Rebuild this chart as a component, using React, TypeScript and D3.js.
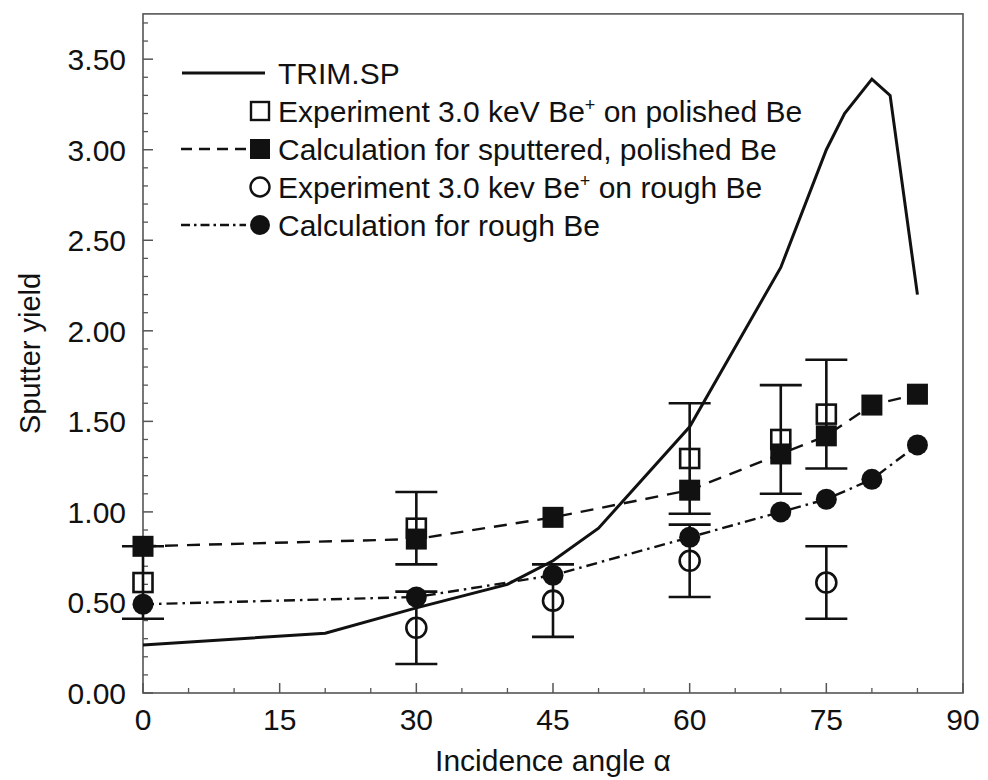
import React from "react";
import * as d3 from "d3";

// ---------- data ----------
const trimAngles = [0, 20, 30, 40, 45, 50, 60, 70, 75, 77, 80, 82, 85];
const trimYield = [0.265, 0.33, 0.47, 0.6, 0.73, 0.91, 1.47, 2.35, 3.0, 3.2, 3.39, 3.3, 2.2];

const polishedExpAngles = [0, 30, 60, 70, 75];
const polishedExpYield = [0.61, 0.91, 1.295, 1.4, 1.54];
const polishedExpErr = [0.2, 0.2, 0.305, 0.3, 0.3];

const roughExpAngles = [30, 45, 60, 75];
const roughExpYield = [0.36, 0.51, 0.73, 0.61];
const roughExpErr = [0.2, 0.2, 0.2, 0.2];

const calcAngles = [0, 30, 45, 60, 70, 75, 80, 85];
const polishedCalcYield = [0.81, 0.85, 0.97, 1.12, 1.32, 1.42, 1.59, 1.65];
const roughCalcYield = [0.49, 0.53, 0.65, 0.86, 1.0, 1.07, 1.18, 1.37];

const xTickValues = [0, 15, 30, 45, 60, 75, 90];
const yTickValues = [0, 0.5, 1.0, 1.5, 2.0, 2.5, 3.0, 3.5];

const FONT = "'Liberation Sans', Arial, Helvetica, sans-serif";
const INK = "#111";
const FRAME = "#555";

export default function App() {
  const x = d3.scaleLinear().domain([0, 90]).range([143, 963]);
  const y = d3.scaleLinear().domain([0, 3.75]).range([693, 13.9]);

  const xMinor = d3.range(0, 91, 5).filter((v) => v % 15 !== 0);
  const yMinor = d3.range(0, 37.5, 1).map((v) => v / 10).filter((v) => Math.round(v * 10) % 5 !== 0);

  const line = d3
    .line<[number, number]>()
    .x((d) => x(d[0]))
    .y((d) => y(d[1]));

  const trimPts = trimAngles.map((a, i) => [a, trimYield[i]] as [number, number]);
  const polCalcPts = calcAngles.map((a, i) => [a, polishedCalcYield[i]] as [number, number]);
  const roughCalcPts = calcAngles.map((a, i) => [a, roughCalcYield[i]] as [number, number]);

  const cap = 21;
  const sq = 19;
  const r = 10;

  const errBar = (a: number, v: number, e: number, key: string) => (
    <g key={key} stroke={INK} strokeWidth={2.6}>
      <line x1={x(a)} x2={x(a)} y1={y(v + e)} y2={y(v - e)} />
      <line x1={x(a) - cap} x2={x(a) + cap} y1={y(v + e)} y2={y(v + e)} />
      <line x1={x(a) - cap} x2={x(a) + cap} y1={y(v - e)} y2={y(v - e)} />
    </g>
  );

  const legendRows = [73, 111, 149, 187, 225];
  const lx0 = 181;
  const lMarker = 260;
  const lText = 278;

  return (
    <svg
      width={988}
      height={780}
      style={{ position: "absolute", left: 0, top: 0, background: "#fff" }}
      fontFamily={FONT}
    >
      <rect x={0} y={0} width={988} height={780} fill="#fff" />

      {/* frame */}
      <rect
        x={x(0)}
        y={y(3.75)}
        width={x(90) - x(0)}
        height={y(0) - y(3.75)}
        fill="none"
        stroke={FRAME}
        strokeWidth={1.6}
      />

      {/* y ticks */}
      {yTickValues.map((v) => (
        <g key={"yt" + v}>
          <line x1={x(0)} x2={x(0) + 10} y1={y(v)} y2={y(v)} stroke={FRAME} strokeWidth={1.5} />
          <text x={126} y={y(v)} dy="0.36em" textAnchor="end" fontSize={30} fill={INK}>
            {d3.format(".2f")(v)}
          </text>
        </g>
      ))}
      {yMinor.map((v) => (
        <line key={"ym" + v} x1={x(0)} x2={x(0) + 5} y1={y(v)} y2={y(v)} stroke={FRAME} strokeWidth={1.3} />
      ))}

      {/* x ticks */}
      {xTickValues.map((v) => (
        <g key={"xt" + v}>
          <line x1={x(v)} x2={x(v)} y1={y(0)} y2={y(0) - 10} stroke={FRAME} strokeWidth={1.5} />
          <text x={x(v)} y={730} textAnchor="middle" fontSize={30} fill={INK}>
            {v}
          </text>
        </g>
      ))}
      {xMinor.map((v) => (
        <line key={"xm" + v} x1={x(v)} x2={x(v)} y1={y(0)} y2={y(0) - 5} stroke={FRAME} strokeWidth={1.3} />
      ))}

      {/* axis titles */}
      <text x={553} y={771} textAnchor="middle" fontSize={30} fill={INK}>
        Incidence angle α
      </text>
      <text
        transform={`translate(40, ${(y(0) + y(3.75)) / 2}) rotate(-90)`}
        textAnchor="middle"
        fontSize={29}
        fill={INK}
      >
        Sputter yield
      </text>

      {/* lines */}
      <path d={line(trimPts) || ""} fill="none" stroke={INK} strokeWidth={3} strokeLinejoin="miter" />
      <path d={line(polCalcPts) || ""} fill="none" stroke={INK} strokeWidth={2.4} strokeDasharray="13 9" />
      <path d={line(roughCalcPts) || ""} fill="none" stroke={INK} strokeWidth={2.4} strokeDasharray="11 5 2.5 5" />

      {/* error bars */}
      {polishedExpAngles.map((a, i) => errBar(a, polishedExpYield[i], polishedExpErr[i], "pe" + i))}
      {roughExpAngles.map((a, i) => errBar(a, roughExpYield[i], roughExpErr[i], "re" + i))}

      {/* experiment markers (open) */}
      {polishedExpAngles.map((a, i) => (
        <rect
          key={"ps" + i}
          x={x(a) - sq / 2}
          y={y(polishedExpYield[i]) - sq / 2}
          width={sq}
          height={sq}
          fill="none"
          stroke={INK}
          strokeWidth={2.6}
        />
      ))}
      {roughExpAngles.map((a, i) => (
        <circle key={"rc" + i} cx={x(a)} cy={y(roughExpYield[i])} r={r} fill="none" stroke={INK} strokeWidth={2.6} />
      ))}

      {/* calculation markers (filled) */}
      {calcAngles.map((a, i) => (
        <rect
          key={"cs" + i}
          x={x(a) - 10.5}
          y={y(polishedCalcYield[i]) - 10.5}
          width={21}
          height={21}
          fill={INK}
        />
      ))}
      {calcAngles.map((a, i) => (
        <circle key={"cc" + i} cx={x(a)} cy={y(roughCalcYield[i])} r={10.5} fill={INK} />
      ))}

      {/* legend */}
      <g fontSize={30} fill={INK}>
        <line x1={182} x2={265} y1={legendRows[0]} y2={legendRows[0]} stroke={INK} strokeWidth={3} />
        <text x={lText} y={legendRows[0]} dy="0.36em">TRIM.SP</text>

        <rect x={lMarker - 9} y={legendRows[1] - 9} width={18} height={18} fill="none" stroke={INK} strokeWidth={2.4} />
        <text x={lText} y={legendRows[1] + 11}>
          Experiment 3.0 keV Be
          <tspan dy={-11} fontSize={18}>+</tspan>
          <tspan dy={11}> on polished Be</tspan>
        </text>

        <line x1={lx0} x2={246} y1={legendRows[2]} y2={legendRows[2]} stroke={INK} strokeWidth={2.4} strokeDasharray="11 7" />
        <rect x={lMarker - 10} y={legendRows[2] - 10} width={20} height={20} fill={INK} />
        <text x={lText} y={legendRows[2]} dy="0.36em">Calculation for sputtered, polished Be</text>

        <circle cx={lMarker} cy={legendRows[3]} r={9.5} fill="none" stroke={INK} strokeWidth={2.4} />
        <text x={lText} y={legendRows[3] + 11}>
          Experiment 3.0 kev Be
          <tspan dy={-11} fontSize={18}>+</tspan>
          <tspan dy={11}> on rough Be</tspan>
        </text>

        <line x1={lx0} x2={246} y1={legendRows[4]} y2={legendRows[4]} stroke={INK} strokeWidth={2.4} strokeDasharray="9 4 2.5 4" />
        <circle cx={lMarker} cy={legendRows[4]} r={10} fill={INK} />
        <text x={lText} y={legendRows[4]} dy="0.36em">Calculation for rough Be</text>
      </g>
    </svg>
  );
}
